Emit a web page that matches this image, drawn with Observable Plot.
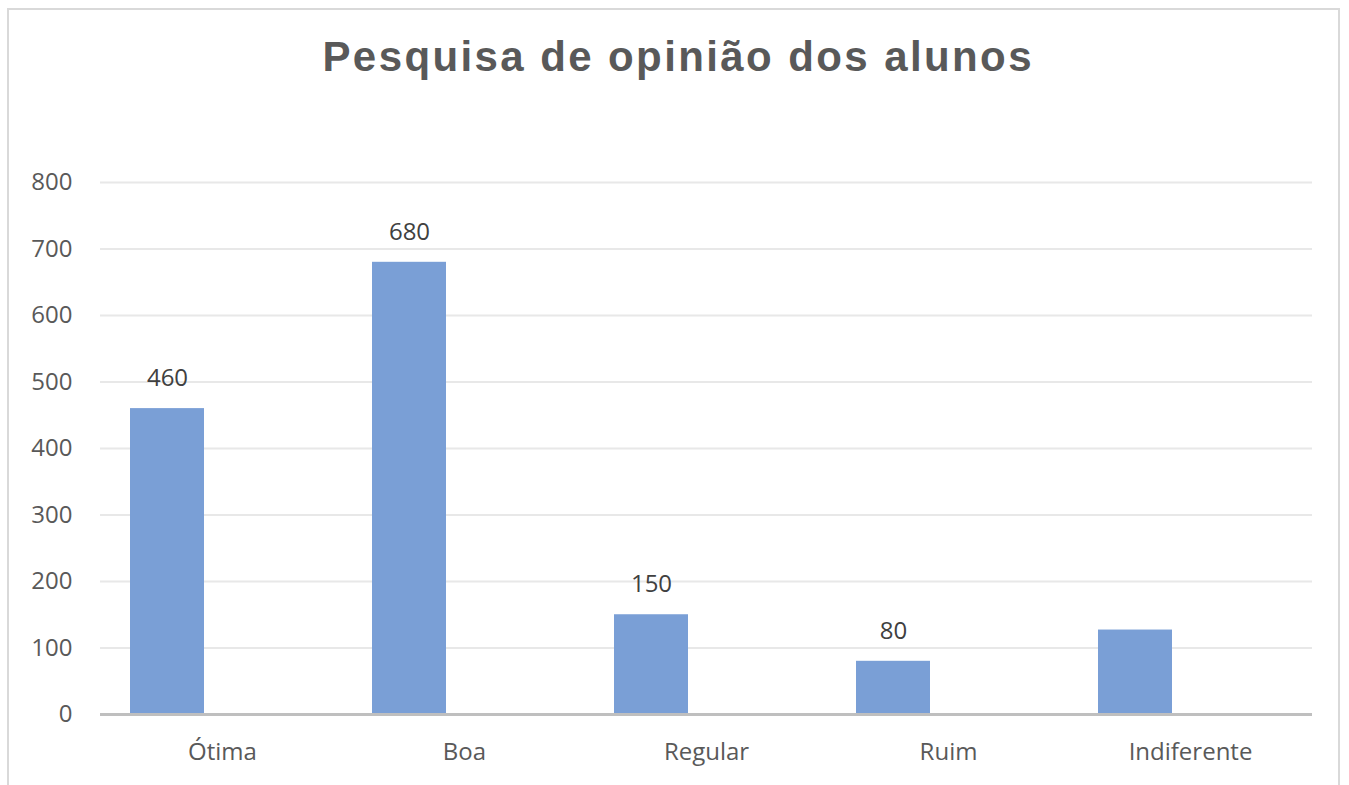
<!DOCTYPE html>
<html>
<head>
<meta charset="utf-8">
<script src="https://cdn.jsdelivr.net/npm/d3@7"></script>
<script src="https://cdn.jsdelivr.net/npm/@observablehq/plot@0.6"></script>
<style>
  html, body { margin: 0; padding: 0; background: #fff; width: 1349px; height: 785px; overflow: hidden; }
  #frame { position: absolute; left: 7px; top: 8px; width: 1333px; height: 800px; border: 2px solid #d9d9d9; box-sizing: border-box; }
  #title { position: absolute; left: 0; width: 1354px; top: 33px; text-align: center; font-family: "Liberation Sans", Arial, sans-serif; font-weight: bold; font-size: 42px; color: #595959; letter-spacing: 2.4px; padding-left: 2.4px; box-sizing: border-box; }
  #chart { position: absolute; left: 0; top: 110px; }
</style>
</head>
<body>
<div id="frame"></div>
<div id="title">Pesquisa de opinião dos alunos</div>
<div id="chart"></div>
<script>
const categories = ["Ótima", "Boa", "Regular", "Ruim", "Indiferente"];
const values = [460, 680, 150, 80, 127];
const showLabel = [true, true, true, true, false];
const yTicks = [0, 100, 200, 300, 400, 500, 600, 700, 800];

const data = categories.map((c, i) => ({category: c, value: values[i], label: showLabel[i]}));

const chart = Plot.plot({
  width: 1349,
  height: 675,
  marginLeft: 100,
  marginRight: 37,
  marginTop: 72,
  marginBottom: 71,
  style: {fontFamily: "'Open Sans', sans-serif", fontSize: "24px", color: "#595959", background: "transparent"},
  x: {domain: categories, padding: 0, label: null},
  y: {domain: [0, 800], ticks: yTicks, label: null},
  marks: [
    Plot.gridY(yTicks, {stroke: "#e8e8e8", strokeOpacity: 1, strokeWidth: 2}),
    Plot.barY(data, {x: "category", y: "value", fill: "#7a9fd6", insetLeft: 29, insetRight: 139}),
    Plot.ruleY([0], {stroke: "#bfbfbf", strokeWidth: 3}),
    Plot.axisY({ticks: yTicks, tickSize: 0, tickPadding: 28, fill: "#595959", fontSize: 24, style: {letterSpacing: "1.2px"}}),
    Plot.axisX({tickSize: 0, tickPadding: 28, fill: "#595959", fontSize: 24, style: {letterSpacing: "1.5px"}}),
    Plot.text(data.filter(d => d.label), {x: "category", y: "value", text: d => String(d.value), dx: -55, dy: -30, fill: "#404040", fontSize: 24, style: {letterSpacing: "1.2px"}})
  ]
});
document.getElementById("chart").appendChild(chart);
</script>
</body>
</html>
